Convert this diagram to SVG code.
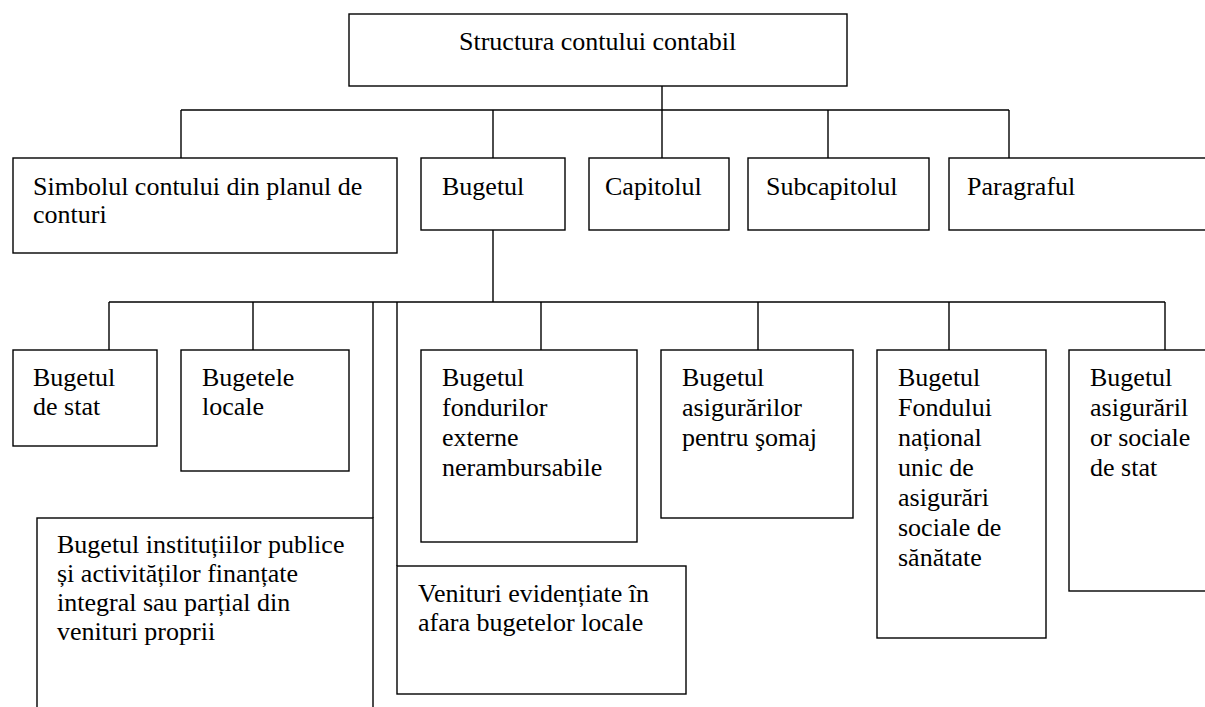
<svg xmlns="http://www.w3.org/2000/svg" width="1205" height="707" viewBox="0 0 1205 707">
  <style>
    .box { fill: #ffffff; stroke: #000000; stroke-width: 1.4; }
    .link { fill: none; stroke: #000000; stroke-width: 1.4; }
    .lbl { font-family: 'Liberation Serif', 'Times New Roman', serif; font-size: 26px; fill: #000000; }
  </style>
  <rect x="0" y="0" width="1205" height="707" fill="#ffffff"/>

  <!-- connectors -->
  <g id="connectors">
    <!-- root to first level -->
    <line class="link" x1="662" y1="86" x2="662" y2="110"/>
    <line class="link" x1="181" y1="110" x2="1009" y2="110"/>
    <line class="link" x1="181" y1="110" x2="181" y2="158"/>
    <line class="link" x1="493" y1="110" x2="493" y2="158"/>
    <line class="link" x1="662" y1="110" x2="662" y2="158"/>
    <line class="link" x1="828" y1="110" x2="828" y2="158"/>
    <line class="link" x1="1009" y1="110" x2="1009" y2="158"/>
    <!-- Bugetul to budget kinds -->
    <line class="link" x1="493" y1="230" x2="493" y2="302"/>
    <line class="link" x1="109" y1="302" x2="1165" y2="302"/>
    <line class="link" x1="109" y1="302" x2="109" y2="350"/>
    <line class="link" x1="253" y1="302" x2="253" y2="350"/>
    <line class="link" x1="373" y1="302" x2="373" y2="518"/>
    <line class="link" x1="397" y1="302" x2="397" y2="566"/>
    <line class="link" x1="541" y1="302" x2="541" y2="350"/>
    <line class="link" x1="758" y1="302" x2="758" y2="350"/>
    <line class="link" x1="949" y1="302" x2="949" y2="350"/>
    <line class="link" x1="1165" y1="302" x2="1165" y2="350"/>
  </g>

  <g id="nodes" class="lbl">
  <g id="root">
    <rect class="box" x="349" y="14" width="498" height="72"/>
    <text x="459" y="50">Structura contului contabil</text>
  </g>

  <g id="simbolul">
    <rect class="box" x="13" y="158" width="384" height="95"/>
    <text x="33" y="195">Simbolul contului din planul de</text>
    <text x="33" y="223">conturi</text>
  </g>
  <g id="bugetul">
    <rect class="box" x="421" y="158" width="144" height="72"/>
    <text x="442" y="195">Bugetul</text>
  </g>
  <g id="capitolul">
    <rect class="box" x="589" y="158" width="140" height="72"/>
    <text x="605" y="195">Capitolul</text>
  </g>
  <g id="subcapitolul">
    <rect class="box" x="748" y="158" width="181" height="72"/>
    <text x="766" y="195">Subcapitolul</text>
  </g>
  <g id="paragraful">
    <rect class="box" x="949" y="158" width="280" height="72"/>
    <text x="967" y="195">Paragraful</text>
  </g>

  <g id="bugetul-de-stat">
    <rect class="box" x="13" y="350" width="144" height="96"/>
    <text x="33" y="386">Bugetul</text>
    <text x="33" y="415">de stat</text>
  </g>
  <g id="bugetele-locale">
    <rect class="box" x="181" y="350" width="168" height="121"/>
    <text x="202" y="386">Bugetele</text>
    <text x="202" y="415">locale</text>
  </g>
  <g id="institutii-publice">
    <rect class="box" x="37" y="518" width="336" height="210"/>
    <text x="57" y="553">Bugetul instituțiilor publice</text>
    <text x="57" y="582">și activităților finanțate</text>
    <text x="57" y="611">integral sau parțial din</text>
    <text x="57" y="640">venituri proprii</text>
  </g>
  <g id="venituri-afara">
    <rect class="box" x="397" y="566" width="289" height="128"/>
    <text x="418" y="602">Venituri evidențiate în</text>
    <text x="418" y="631">afara bugetelor locale</text>
  </g>
  <g id="fonduri-externe">
    <rect class="box" x="421" y="350" width="216" height="192"/>
    <text x="442" y="386">Bugetul</text>
    <text x="442" y="416">fondurilor</text>
    <text x="442" y="446">externe</text>
    <text x="442" y="476">nerambursabile</text>
  </g>
  <g id="somaj">
    <rect class="box" x="661" y="350" width="192" height="168"/>
    <text x="682" y="386">Bugetul</text>
    <text x="682" y="416">asigurărilor</text>
    <text x="682" y="446">pentru şomaj</text>
  </g>
  <g id="fond-sanatate">
    <rect class="box" x="877" y="350" width="169" height="288"/>
    <text x="898" y="386">Bugetul</text>
    <text x="898" y="416">Fondului</text>
    <text x="898" y="446">național</text>
    <text x="898" y="476">unic de</text>
    <text x="898" y="506">asigurări</text>
    <text x="898" y="536">sociale de</text>
    <text x="898" y="566">sănătate</text>
  </g>
  <g id="asigurari-sociale">
    <rect class="box" x="1069" y="350" width="160" height="241"/>
    <text x="1090" y="386">Bugetul</text>
    <text x="1090" y="416">asigurăril</text>
    <text x="1090" y="446">or sociale</text>
    <text x="1090" y="476">de stat</text>
  </g>
  </g>
</svg>
